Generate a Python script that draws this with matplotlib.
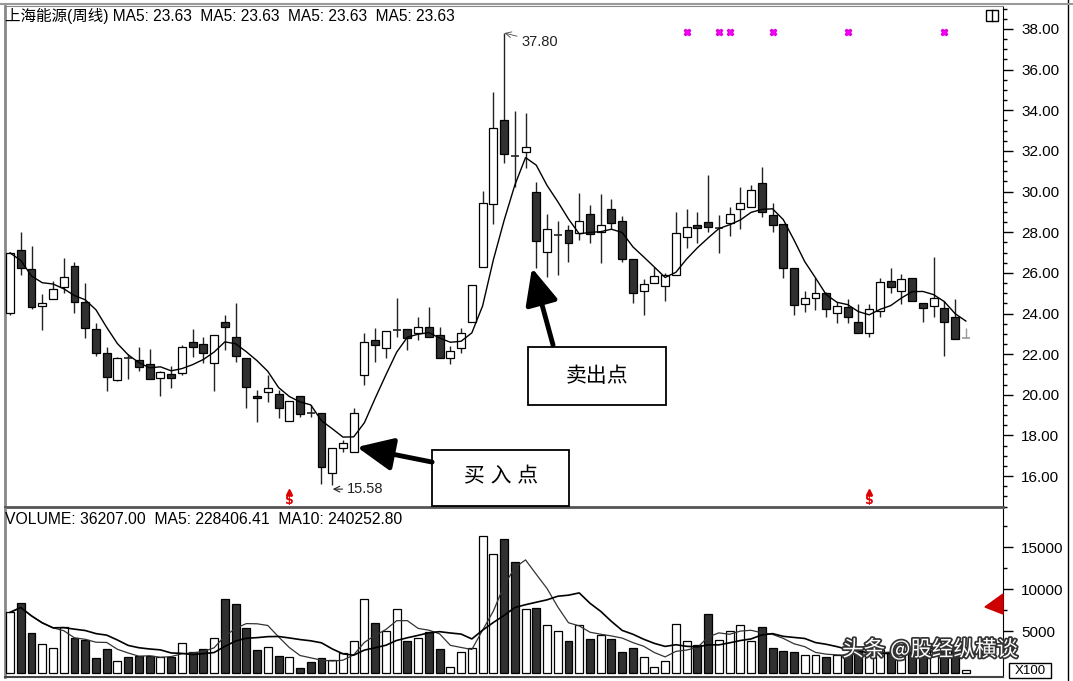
import numpy as np
import pandas as pd
import matplotlib
matplotlib.use('Agg')
import matplotlib.pyplot as plt
from matplotlib.patches import Rectangle, Polygon
from matplotlib.lines import Line2D
from matplotlib.ticker import MultipleLocator, FormatStrFormatter, FixedLocator
import matplotlib.patheffects as pe

plt.rcParams['font.family'] = ['Liberation Sans', 'Noto Sans CJK SC', 'DejaVu Sans']

# weekly candles, 上海能源
opens = [24.02, 27.12, 26.19, 24.37, 24.71, 25.30, 26.34, 24.57, 23.24, 22.05,
         20.73, 21.83, 21.71, 21.50, 20.82, 21.03, 21.07, 22.60, 22.50, 21.56,
         23.58, 22.84, 21.81, 19.94, 20.14, 20.04, 18.71, 19.94, 19.12, 19.10,
         16.15, 17.38, 17.18, 20.97, 22.70, 22.30, 23.17, 23.24, 23.04, 23.33,
         22.94, 21.81, 22.30, 23.58, 26.29, 29.39, 33.52, 31.78, 31.95, 29.98,
         27.03, 27.84, 28.11, 27.96, 28.90, 28.01, 29.14, 28.55, 26.68, 25.10,
         25.50, 25.35, 25.89, 27.76, 28.35, 28.50, 28.18, 28.45, 29.14, 29.24,
         30.42, 28.85, 28.40, 26.24, 24.47, 24.76, 25.00, 24.02, 24.32, 23.58,
         23.04, 24.12, 25.60, 25.10, 25.75, 24.52, 24.37, 24.27, 23.83, 22.80]
highs = [27.05, 28.01, 27.32, 24.96, 25.60, 26.73, 26.53, 25.50, 23.53, 22.35,
         21.85, 22.00, 22.35, 22.25, 21.15, 21.42, 22.45, 23.24, 22.84, 22.94,
         23.93, 24.52, 21.81, 20.23, 20.97, 20.23, 19.69, 19.94, 19.50, 19.10,
         17.38, 17.80, 19.35, 23.04, 23.29, 23.14, 24.76, 23.24, 23.83, 24.32,
         23.33, 22.40, 23.29, 25.40, 30.03, 34.90, 37.80, 33.96, 33.87, 30.47,
         28.90, 28.55, 28.35, 29.93, 29.34, 29.88, 29.63, 28.80, 26.68, 25.70,
         26.29, 26.00, 29.00, 29.14, 29.00, 30.80, 28.85, 29.24, 30.22, 30.30,
         31.20, 29.43, 28.40, 26.24, 25.10, 25.75, 25.05, 24.56, 24.70, 24.47,
         24.47, 25.75, 26.24, 25.94, 25.75, 24.52, 26.78, 24.61, 24.70, 23.29]
lows = [23.93, 25.89, 24.22, 23.19, 24.71, 25.00, 24.02, 22.80, 21.90, 20.19,
        20.70, 20.80, 21.17, 20.78, 19.94, 20.33, 20.98, 21.86, 21.56, 20.19,
        22.20, 21.61, 19.35, 18.66, 19.64, 18.86, 18.71, 18.90, 18.90, 15.60,
        15.58, 17.20, 17.18, 20.48, 21.61, 21.80, 22.84, 22.20, 22.70, 22.84,
        21.81, 21.50, 22.05, 23.58, 26.29, 28.40, 31.40, 30.20, 31.16, 26.24,
        25.80, 25.90, 26.53, 27.60, 27.47, 26.48, 28.16, 26.53, 24.52, 23.93,
        25.50, 24.61, 25.89, 27.22, 27.47, 28.00, 26.98, 27.80, 28.16, 29.24,
        28.75, 28.00, 25.75, 23.93, 24.07, 24.17, 23.83, 23.53, 23.53, 23.04,
        22.85, 23.83, 25.00, 24.47, 24.61, 23.58, 23.83, 21.90, 22.74, 22.80]
closes = [26.98, 26.24, 24.32, 24.52, 25.20, 25.80, 24.57, 23.29, 22.05, 20.87,
          21.81, 21.81, 21.37, 20.78, 21.12, 20.82, 22.35, 22.35, 22.05, 22.94,
          23.33, 21.90, 20.38, 19.84, 20.33, 19.35, 19.69, 19.05, 19.10, 16.44,
          17.38, 17.63, 19.10, 22.60, 22.45, 23.14, 23.19, 22.80, 23.33, 22.84,
          21.81, 22.15, 23.04, 25.40, 29.44, 33.13, 31.85, 31.75, 32.19, 27.57,
          28.16, 27.86, 27.47, 28.55, 27.91, 28.35, 28.45, 26.68, 25.00, 25.45,
          25.84, 25.89, 27.96, 28.26, 28.21, 28.26, 28.20, 28.90, 29.44, 30.08,
          28.99, 28.35, 26.24, 24.42, 24.76, 25.00, 24.22, 24.37, 23.83, 23.04,
          24.22, 25.55, 25.30, 25.70, 24.61, 24.27, 24.76, 23.58, 22.74, 22.80]
# volume in units of 100 shares
volumes = [7220, 8370, 4800, 3490, 3010, 5510, 4130, 3930, 1750, 2860,
           1430, 1940, 2020, 2020, 1940, 1860, 3610, 2540, 2860, 4130,
           8810, 8210, 5400, 2740, 3130, 2060, 1860, 630, 1350, 1750,
           1550, 2340, 3810, 8810, 5910, 5040, 7580, 3810, 4210, 4840,
           2860, 750, 2540, 3010, 16340, 14160, 15990, 13250, 7580, 7770,
           5710, 5040, 3810, 5710, 4010, 4520, 4010, 2540, 3010, 1860,
           750, 1430, 5830, 3810, 3330, 6980, 3930, 5000, 5710, 3810,
           5500, 2980, 2600, 2500, 2100, 2100, 1900, 2200, 2300, 2600,
           2300, 2700, 2500, 2600, 2500, 2700, 3000, 2700, 2660, 362]
signal_marks = [63, 66, 67, 71, 78, 87]   # magenta markers at top
sell_flags = [26, 80]                     # red $ markers

W, H = 1073, 681
fig = plt.figure(figsize=(W / 100, H / 100), dpi=100)


def px_box(l, t, r, b):
    return [l / W, 1 - b / H, (r - l) / W, (b - t) / H]


ax = fig.add_axes(px_box(5, 6, 1003, 507))
axv = fig.add_axes(px_box(5, 509, 1003, 677))
xlo, xhi = -0.47, 92.46

x = np.arange(len(closes))
o = np.array(opens)
c = np.array(closes)
up = c >= o
dark = '#303030'
bw = 0.74

# candles
last = len(c) - 1
for i in x:
    col = '#999999' if i == last else '#222222'
    ax.vlines(i, lows[i], highs[i], color=col, lw=1, zorder=2)
    if abs(c[i] - o[i]) < 0.06:
        ax.hlines(c[i], i - bw / 2, i + bw / 2, color=col, lw=1.2, zorder=3)
    else:
        ax.bar(i, abs(c[i] - o[i]), bottom=min(c[i], o[i]), width=bw,
               color='white' if up[i] else dark, edgecolor='black', lw=0.9, zorder=3)

ma5 = pd.Series(c).rolling(5, min_periods=1).mean()
ax.plot(x, ma5, color='black', lw=1.0, zorder=4)

ax.set_xlim(xlo, xhi)
ax.set_ylim(14.48, 39.13)
ax.yaxis.tick_right()
ax.yaxis.set_major_locator(MultipleLocator(2))
ax.yaxis.set_minor_locator(MultipleLocator(0.5))
ax.yaxis.set_major_formatter(FormatStrFormatter('%.2f'))
ax.tick_params(axis='y', which='major', length=7, width=1, labelsize=11, pad=6)
ax.tick_params(axis='y', which='minor', length=3, width=1)
ax.set_xticks([])
for s in ['left', 'top']:
    ax.spines[s].set_color('#888888')
ax.spines['left'].set_linewidth(2)
ax.spines['bottom'].set_color('#555555')
ax.spines['bottom'].set_linewidth(2)
ax.spines['right'].set_color('black')

# high / low labels
ax.annotate('37.80', xy=(46.05, 37.8), xytext=(47.6, 37.36), fontsize=10.5,
            va='center', ha='left', color='#222222',
            arrowprops=dict(arrowstyle='->', lw=0.6, color='#444444', shrinkA=1, shrinkB=0))
ax.annotate('15.58', xy=(30.05, 15.36), xytext=(31.35, 15.36), fontsize=10.5,
            va='center', ha='left', color='#222222',
            arrowprops=dict(arrowstyle='->', lw=0.8, color='#222222', shrinkA=1, shrinkB=0))

# signal markers
ax.plot(signal_marks, [37.85] * len(signal_marks), ls='none', marker='X',
        ms=5, color='#ff00ff', mec='#dd00dd', zorder=5)
for i in sell_flags:
    ax.plot(i, 15.2, marker='^', ms=4, color='#dd0000', ls='none', zorder=5)
    ax.text(i, 14.82, '$', color='#dd0000', fontsize=9, fontweight='bold',
            ha='center', va='center', family='DejaVu Sans', zorder=5)

# annotation boxes with arrows
ax.add_patch(Rectangle((48.2, 19.5), 12.9, 2.85, fill=False, lw=1.3, ec='black', zorder=6))
ax.text(54.65, 20.92, '卖出点', fontsize=15, ha='center', va='center', zorder=6)
ax.annotate('', xy=(48.6, 26.24), xytext=(50.56, 22.45),
            arrowprops=dict(arrowstyle='-|>,head_length=1.1,head_width=0.5', lw=3.5,
                            color='black', mutation_scale=20, shrinkA=0, shrinkB=0), zorder=6)
ax.add_patch(Rectangle((39.3, 14.53), 12.75, 2.75, fill=False, lw=1.3, ec='black',
                       zorder=6, clip_on=False))
ax.text(45.7, 15.95, '买 入 点', fontsize=15, ha='center', va='center', zorder=6)
ax.annotate('', xy=(32.3, 17.43), xytext=(39.3, 16.69),
            arrowprops=dict(arrowstyle='-|>,head_length=1.1,head_width=0.5', lw=3.5,
                            color='black', mutation_scale=20, shrinkA=0, shrinkB=0), zorder=6)

# volume panel
vol = np.array(volumes)
vcol = ['white' if u else dark for u in up]
vcol[last] = 'white'
axv.bar(x, vol, width=bw, color=vcol, edgecolor='black', lw=0.9, zorder=3)
vma5 = pd.Series(vol).rolling(5, min_periods=1).mean()
vma10 = pd.Series(vol).rolling(10, min_periods=1).mean()
axv.plot(x, vma5, color='#333333', lw=0.9, zorder=4)
axv.plot(x, vma10, color='black', lw=1.2, zorder=4)
axv.set_xlim(xlo, xhi)
axv.set_ylim(-476, 19524)
axv.yaxis.tick_right()
axv.yaxis.set_major_locator(FixedLocator([5000, 10000, 15000]))
axv.yaxis.set_minor_locator(FixedLocator([2500, 7500, 12500, 17500]))
axv.tick_params(axis='y', which='major', length=7, width=1, labelsize=11, pad=6)
axv.tick_params(axis='y', which='minor', length=3, width=1)
axv.set_xticks([])
axv.spines['left'].set_color('#888888')
axv.spines['left'].set_linewidth(2)
axv.spines['top'].set_visible(False)
axv.spines['bottom'].set_color('#444444')
axv.spines['bottom'].set_linewidth(1.5)

# headers
fig.text(5 / W, 1 - 16 / H, '上海能源(周线) MA5: 23.63  MA5: 23.63  MA5: 23.63  MA5: 23.63',
         fontsize=11.2, va='center', ha='left')
fig.text(5 / W, 1 - 520 / H, 'VOLUME: 36207.00  MA5: 228406.41  MA10: 240252.80',
         fontsize=11.3, va='center', ha='left')

# small decorations
fig.add_artist(Rectangle((986 / W, 1 - 21 / H), 12 / W, 11 / H, fill=False, lw=1, ec='black'))
fig.add_artist(Line2D([992 / W, 992 / W], [1 - 21 / H, 1 - 10 / H], lw=1, color='black'))
fig.add_artist(Line2D([1068 / W, 1068 / W], [0, 1], lw=1, color='black'))
fig.add_artist(Line2D([0, 1], [1 - 4 / H, 1 - 4 / H], lw=1.5, color='#999999'))
fig.add_artist(Polygon([(1003 / W, 1 - 594 / H), (985 / W, 1 - 607 / H), (1003 / W, 1 - 614 / H)],
                       closed=True, color='#cc0000'))
fig.add_artist(Rectangle((1009 / W, 1 - 678 / H), 42 / W, 15 / H, fill=False, lw=1, ec='black'))
fig.text(1030 / W, 1 - 670.5 / H, 'X100', fontsize=9.5, ha='center', va='center')

# watermark
fig.text(930 / W, 1 - 650 / H, '头条 @股经纵横谈', fontsize=15.5, ha='center', va='center',
         color='white', family=['Noto Sans CJK SC'],
         path_effects=[pe.withStroke(linewidth=2.5, foreground='#333333')])

fig.savefig('out.png', dpi=100)
